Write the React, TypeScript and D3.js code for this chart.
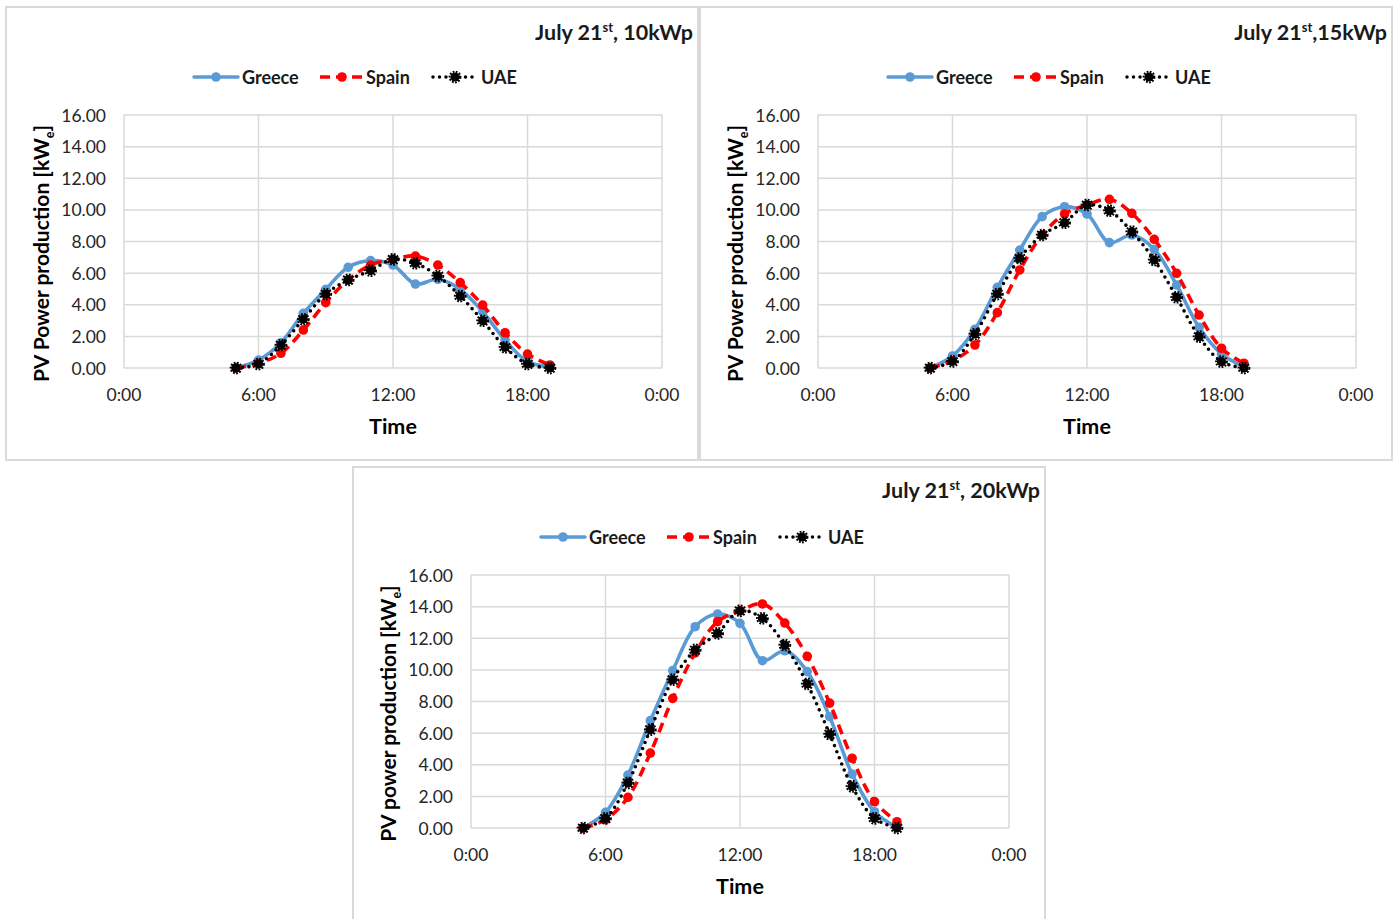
import React from "react";
import * as d3 from "d3";

// Hours of the day at which power was sampled
const hours = [5, 6, 7, 8, 9, 10, 11, 12, 13, 14, 15, 16, 17, 18, 19];

// 10 kWp system, kWe
const greece10 = [0.0, 0.5, 1.6, 3.46, 4.97, 6.37, 6.79, 6.51, 5.31, 5.61, 4.97, 3.56, 1.77, 0.4, 0.08];
const spain10 = [0.0, 0.3, 0.93, 2.4, 4.13, 5.57, 6.51, 6.87, 7.08, 6.51, 5.4, 3.98, 2.23, 0.88, 0.19];
const uae10 = [0.0, 0.25, 1.45, 3.08, 4.68, 5.57, 6.16, 6.87, 6.62, 5.82, 4.55, 2.99, 1.31, 0.25, 0.0];

// 15 kWp system, kWe
const greece15 = [0.0, 0.76, 2.45, 5.1, 7.46, 9.57, 10.2, 9.74, 7.93, 8.41, 7.51, 5.25, 2.57, 0.89, 0.08];
const spain15 = [0.0, 0.46, 1.45, 3.5, 6.2, 8.41, 9.74, 10.31, 10.67, 9.78, 8.14, 5.99, 3.35, 1.25, 0.3];
const uae15 = [0.0, 0.42, 2.15, 4.68, 6.94, 8.41, 9.19, 10.31, 9.95, 8.62, 6.83, 4.47, 1.98, 0.4, 0.0];

// 20 kWp system, kWe
const greece20 = [0.0, 0.99, 3.35, 6.79, 9.95, 12.73, 13.53, 12.94, 10.58, 11.21, 9.89, 7.04, 3.41, 1.03, 0.04];
const spain20 = [0.0, 0.53, 1.94, 4.74, 8.2, 11.07, 13.05, 13.74, 14.17, 12.96, 10.86, 7.9, 4.41, 1.67, 0.4];
const uae20 = [0.0, 0.61, 2.85, 6.22, 9.38, 11.26, 12.31, 13.74, 13.26, 11.57, 9.11, 5.94, 2.63, 0.61, 0.0];

const seriesNames = ["Greece", "Spain", "UAE"];
const yTicks = [0, 2, 4, 6, 8, 10, 12, 14, 16];
const xTicks = [0, 6, 12, 18, 24];
const xTickLabels = ["0:00", "6:00", "12:00", "18:00", "0:00"];

const FONT = "Lato, 'Open Sans', sans-serif";
const GRID = "#d9d9d9";

const seriesStyle = [
  { color: "#5b9bd5", dash: null as string | null, cap: "round" as const },
  { color: "#ff0000", dash: "10,6", cap: "butt" as const },
  { color: "#000000", dash: "0,6.5", cap: "round" as const },
];

type PanelProps = {
  ox: number;
  oy: number;
  h: number;
  titleY: number;
  titleMain: string;
  titleTail: string;
  yLabel: string;
  values: number[][];
};

function Marker({ x, y, i }: { x: number; y: number; i: number }) {
  if (i === 2) {
    return (
      <g>
        <circle cx={x} cy={y} r={4.6} fill="#000" />
        <circle cx={x} cy={y} r={5.4} fill="none" stroke="#000" strokeWidth={2} strokeDasharray="1.8,1.4" />
      </g>
    );
  }
  return <circle cx={x} cy={y} r={4.8} fill={seriesStyle[i].color} />;
}

function Panel({ ox, oy, h, titleY, titleMain, titleTail, yLabel, values }: PanelProps) {
  const left = 118, right = 656, top = 108, bottom = 361;
  const x = d3.scaleLinear().domain([0, 24]).range([left, right]);
  const y = d3.scaleLinear().domain([0, 16]).range([bottom, top]);
  const line = d3
    .line<number>()
    .x((_, j) => x(hours[j]))
    .y((v) => y(v))
    .curve(d3.curveCatmullRom.alpha(0.5));

  const legendItems = [
    { x0: 188, tx: 236 },
    { x0: 314, tx: 360 },
    { x0: 427, tx: 475 },
  ];

  return (
    <g transform={`translate(${ox},${oy})`}>
      <rect x={0} y={0} width={692} height={h} fill="#fff" stroke={GRID} strokeWidth={2} />

      {/* title */}
      <text x={687} y={titleY} textAnchor="end" fontFamily={FONT} fontWeight="bold" fontSize={21.5} fill="#1a1a1a">
        {titleMain}
        <tspan fontSize={13} dy={-8}>st</tspan>
        <tspan dy={8}>{titleTail}</tspan>
      </text>

      {/* legend */}
      {seriesNames.map((name, i) => {
        const it = legendItems[i];
        const st = seriesStyle[i];
        return (
          <g key={name}>
            <line
              x1={it.x0}
              x2={it.x0 + 44}
              y1={70}
              y2={70}
              stroke={st.color}
              strokeWidth={3.5}
              strokeDasharray={st.dash ?? undefined}
              strokeLinecap={st.cap}
            />
            <Marker x={it.x0 + 22} y={70} i={i} />
            <text x={it.tx} y={70} dominantBaseline="central" fontFamily={FONT} fontWeight="bold" fontSize={18} fill="#1a1a1a">
              {name}
            </text>
          </g>
        );
      })}

      {/* grid */}
      {yTicks.map((t) => (
        <line key={`gy${t}`} x1={left} x2={right} y1={y(t)} y2={y(t)} stroke={GRID} strokeWidth={1.5} />
      ))}
      {xTicks.map((t) => (
        <line key={`gx${t}`} x1={x(t)} x2={x(t)} y1={top} y2={bottom} stroke={GRID} strokeWidth={1.5} />
      ))}

      {/* y tick labels */}
      {yTicks.map((t) => (
        <text key={`ty${t}`} x={left - 18} y={y(t)} textAnchor="end" dominantBaseline="central" fontFamily={FONT} fontSize={17.5} fill="#262626">
          {d3.format(".2f")(t)}
        </text>
      ))}
      {/* x tick labels */}
      {xTicks.map((t, k) => (
        <text key={`tx${t}`} x={x(t)} y={387} textAnchor="middle" dominantBaseline="central" fontFamily={FONT} fontSize={17.5} fill="#262626">
          {xTickLabels[k]}
        </text>
      ))}

      {/* axis titles */}
      <text x={(left + right) / 2} y={419} textAnchor="middle" dominantBaseline="central" fontFamily={FONT} fontWeight="bold" fontSize={21.5} fill="#000">
        Time
      </text>
      <text
        transform={`translate(43,${(top + bottom) / 2 + 12}) rotate(-90)`}
        textAnchor="middle"
        fontFamily={FONT}
        fontWeight="bold"
        fontSize={21}
        fill="#000"
      >
        {yLabel}
        <tspan fontSize={12.5} dy={5}>e</tspan>
        <tspan dy={-5}>]</tspan>
      </text>

      {/* series */}
      {values.map((vals, i) => {
        const st = seriesStyle[i];
        return (
          <g key={`s${i}`}>
            <path
              d={line(vals) ?? ""}
              fill="none"
              stroke={st.color}
              strokeWidth={3.6}
              strokeDasharray={st.dash ?? undefined}
              strokeLinecap={st.cap}
              strokeLinejoin="round"
            />
            {vals.map((v, j) => (
              <Marker key={j} x={x(hours[j])} y={y(v)} i={i} />
            ))}
          </g>
        );
      })}
    </g>
  );
}

export default function App() {
  return (
    <svg
      width={1399}
      height={919}
      style={{ position: "absolute", left: 0, top: 0, background: "#fff" }}
    >
      <rect x={0} y={0} width={1399} height={919} fill="#fff" />
      <Panel ox={6} oy={7} h={453} titleY={33} titleMain="July 21" titleTail=", 10kWp" yLabel="PV Power production [kW" values={[greece10, spain10, uae10]} />
      <Panel ox={700} oy={7} h={453} titleY={33} titleMain="July 21" titleTail=",15kWp" yLabel="PV Power production [kW" values={[greece15, spain15, uae15]} />
      <Panel ox={353} oy={467} h={470} titleY={31} titleMain="July 21" titleTail=", 20kWp" yLabel="PV power production [kW" values={[greece20, spain20, uae20]} />
    </svg>
  );
}
